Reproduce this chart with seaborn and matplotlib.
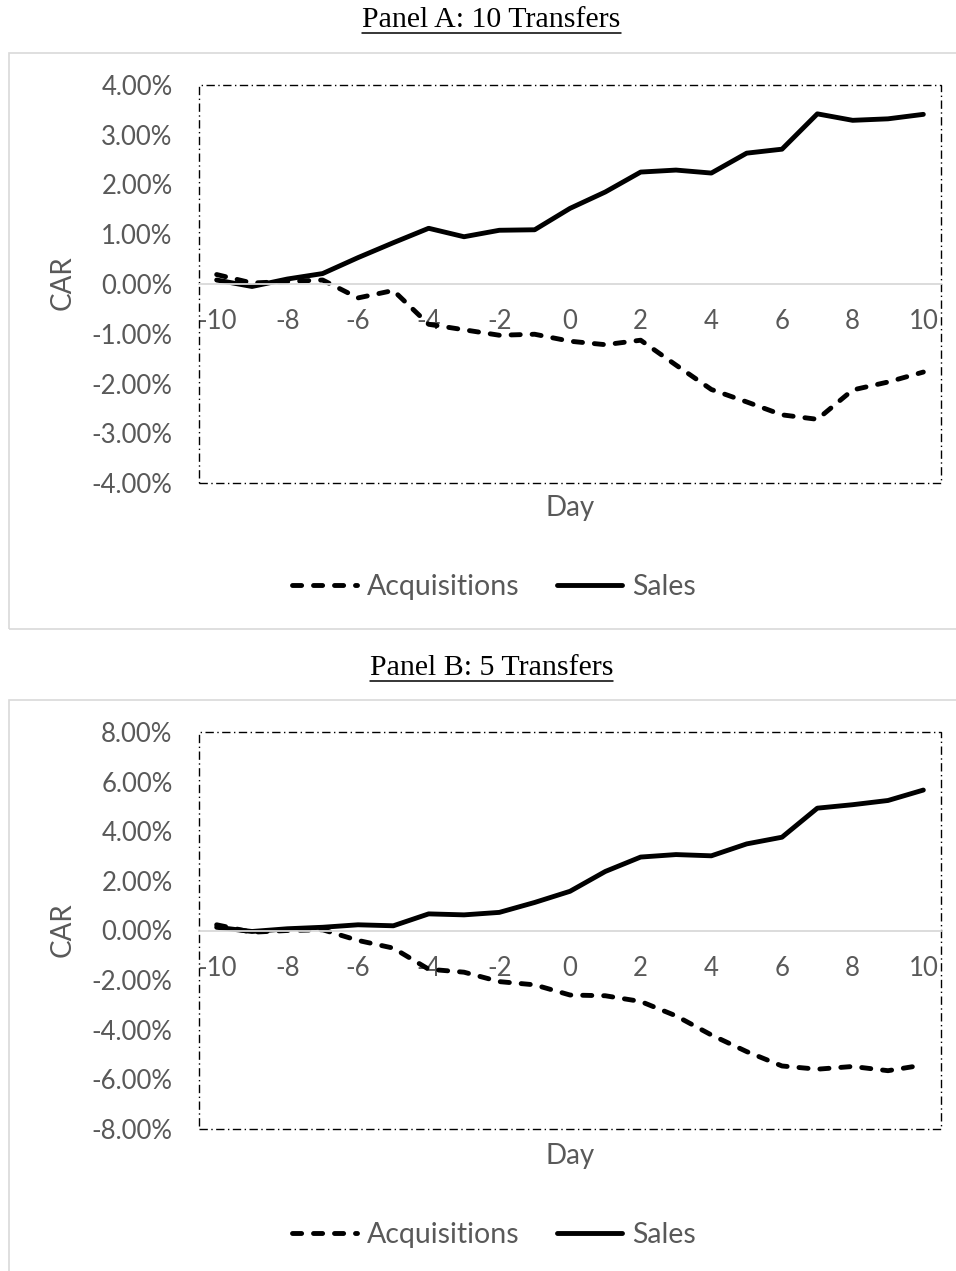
import matplotlib
matplotlib.use("Agg")
import pandas as pd
import seaborn as sns
from matplotlib import pyplot as plt
from matplotlib.lines import Line2D
from matplotlib.patches import Rectangle
from matplotlib.ticker import FuncFormatter

# cumulative abnormal returns in percent, event days -10..10
days = list(range(-10, 11))
acq_a = [0.19, 0.02, 0.05, 0.08, -0.28, -0.13, -0.81, -0.92, -1.03, -1.01, -1.15,
         -1.22, -1.13, -1.63, -2.12, -2.37, -2.63, -2.72, -2.13, -1.97, -1.77]
sales_a = [0.08, -0.05, 0.10, 0.21, 0.53, 0.83, 1.12, 0.95, 1.08, 1.09, 1.52,
           1.85, 2.25, 2.29, 2.23, 2.63, 2.71, 3.42, 3.29, 3.32, 3.41]
acq_b = [0.23, -0.07, 0.00, 0.03, -0.40, -0.71, -1.56, -1.68, -2.06, -2.19, -2.60,
         -2.63, -2.86, -3.44, -4.21, -4.88, -5.46, -5.59, -5.48, -5.65, -5.42]
sales_b = [0.13, -0.04, 0.07, 0.13, 0.23, 0.19, 0.67, 0.63, 0.73, 1.13, 1.58,
           2.38, 2.96, 3.06, 3.01, 3.49, 3.76, 4.93, 5.07, 5.24, 5.66]

panel_titles = ["Panel A: 10 Transfers", "Panel B: 5 Transfers"]
series_names = ["Acquisitions", "Sales"]

sns.set_style("white")
plt.rcParams["font.family"] = ["Lato", "DejaVu Sans"]
plt.rcParams["axes.unicode_minus"] = False

GRAY = "#595959"
W, H = 956, 1271
LW = 3.5
DASH = (1.88, 2.44)
BORDER = (0, (6, 2.5, 1, 2.5))

fig = plt.figure(figsize=(W / 100, H / 100), dpi=100)


def fx(px):
    return px / W


def fy(py):
    return 1 - py / H


panels = [
    dict(acq=acq_a, sales=sales_a, lim=4, step=1, top=85, bottom=483,
         box=(53, 629), title_y=20, legend_y=587, day_y=508),
    dict(acq=acq_b, sales=sales_b, lim=8, step=2, top=732, bottom=1129,
         box=(700, 1290), title_y=668, legend_y=1235, day_y=1156),
]

for title, p in zip(panel_titles, panels):
    # outer chart frame
    fig.add_artist(Rectangle((fx(9), fy(p["box"][1])), fx(962) - fx(9),
                             fy(p["box"][0]) - fy(p["box"][1]),
                             transform=fig.transFigure, fill=False,
                             ec="#d9d9d9", lw=1.2))
    t = fig.text(fx(491.5), fy(p["title_y"]), title, ha="center", va="center",
                 fontsize=21.5, family="Liberation Serif", color="black")
    fig.canvas.draw()
    bb = t.get_window_extent()
    # underline of title
    fig.add_artist(Line2D([bb.x0 / W, bb.x1 / W], [fy(p["title_y"] + 13)] * 2,
                          transform=fig.transFigure, color="black", lw=1.1))

    ax = fig.add_axes([fx(199), fy(p["bottom"]), fx(941) - fx(199),
                       fy(p["top"]) - fy(p["bottom"])])
    df = pd.DataFrame({
        "day": days * 2,
        "car": p["acq"] + p["sales"],
        "series": [series_names[0]] * len(days) + [series_names[1]] * len(days),
    })
    sns.lineplot(data=df, x="day", y="car", style="series", style_order=series_names,
                 dashes={"Acquisitions": DASH, "Sales": ""}, color="black", lw=LW,
                 legend=False, ax=ax)
    for ln in ax.lines:
        ln.set_dash_capstyle("round")
        ln.set_solid_capstyle("round")
        ln.set_solid_joinstyle("round")

    ax.set_xlim(-10.5, 10.5)
    ax.set_ylim(-p["lim"], p["lim"])
    ax.set_xticks(range(-10, 11, 2))
    ax.set_yticks([v * p["step"] for v in range(-p["lim"] // p["step"], p["lim"] // p["step"] + 1)])
    ax.yaxis.set_major_formatter(FuncFormatter(lambda v, _: f"{v:.2f}%"))
    ax.tick_params(axis="both", length=0, labelsize=18.5, labelcolor=GRAY)
    ax.tick_params(axis="x", pad=18)
    ax.tick_params(axis="y", pad=19)
    for side in ["top", "left", "right"]:
        ax.spines[side].set_visible(False)
    ax.spines["bottom"].set_position(("data", 0))
    ax.spines["bottom"].set_color("#d9d9d9")
    ax.spines["bottom"].set_linewidth(1.3)
    ax.set_xlabel("")
    ax.set_ylabel("")
    ax.add_patch(Rectangle((0, 0), 1, 1, transform=ax.transAxes, fill=False,
                           ec="black", lw=1.0, ls=BORDER, clip_on=False))

    mid = (p["top"] + p["bottom"]) / 2 - 1
    fig.text(fx(63), fy(mid), "CAR", rotation=90, ha="center", va="center",
             fontsize=20, color=GRAY)
    fig.text(fx(570), fy(p["day_y"]), "Day", ha="center", va="center",
             fontsize=20, color=GRAY)

    handles = [Line2D([], [], color="black", lw=LW, dashes=DASH, dash_capstyle="round"),
               Line2D([], [], color="black", lw=LW, solid_capstyle="round")]
    leg = fig.legend(handles, series_names, loc="center", ncol=2, frameon=False,
                     bbox_to_anchor=(fx(494), fy(p["legend_y"])), fontsize=20.5,
                     handlelength=2.3, handletextpad=0.35, columnspacing=1.3)
    for txt in leg.get_texts():
        txt.set_color(GRAY)

fig.savefig("out.png", dpi=100)
